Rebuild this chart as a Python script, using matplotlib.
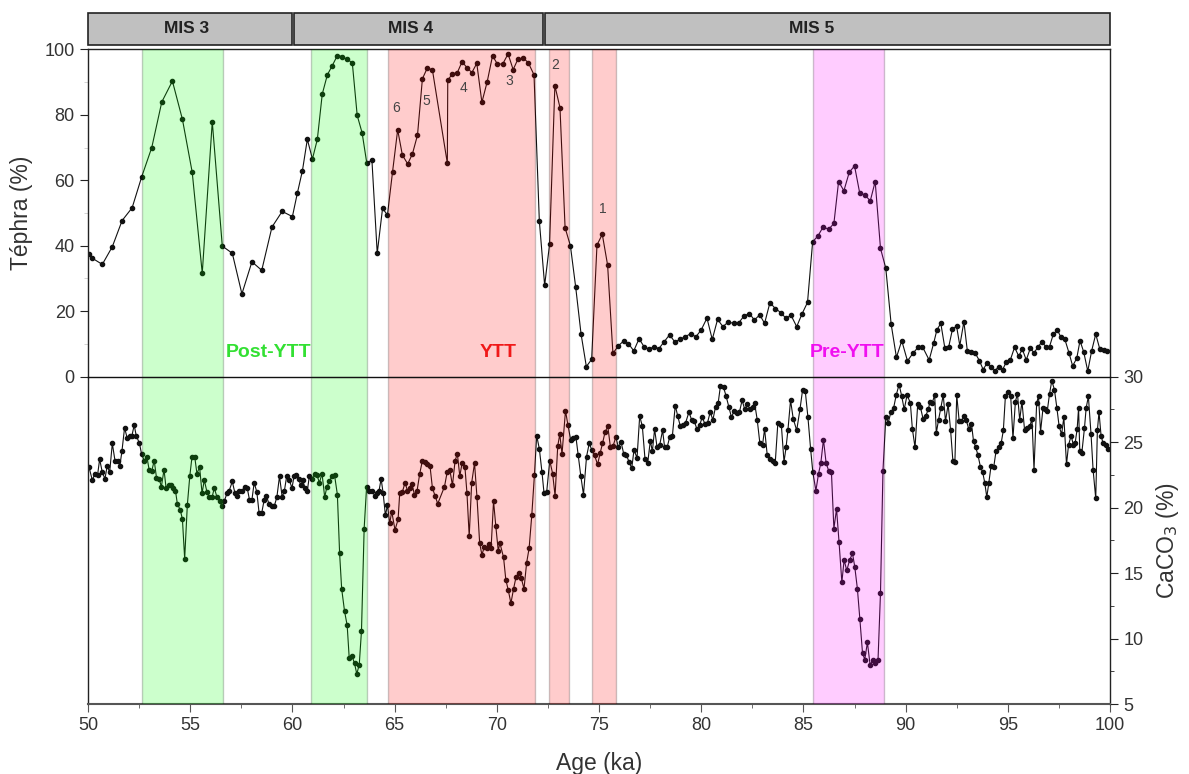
import matplotlib
matplotlib.use("Agg")
import matplotlib.pyplot as plt
from matplotlib.patches import Rectangle
from matplotlib.ticker import MultipleLocator

# ---- data ----
teph_age = [50.05, 50.21, 50.70, 51.19, 51.67, 52.16, 52.63, 53.12, 53.61, 54.13,
            54.62, 55.10, 55.59, 56.08, 56.57, 57.06, 57.53, 58.02, 58.50, 59.00,
            59.50, 60.00, 60.24, 60.49, 60.73, 60.98, 61.22, 61.46, 61.71, 61.95,
            62.20, 62.44, 62.68, 62.93, 63.17, 63.41, 63.64, 63.89, 64.15, 64.41,
            64.65, 64.90, 65.15, 65.38, 65.64, 65.87, 66.12, 66.36, 66.60, 66.85,
            67.58, 67.60, 67.82, 68.07, 68.30, 68.54, 68.78, 69.02, 69.27, 69.53,
            69.79, 70.03, 70.29, 70.55, 70.80, 71.04, 71.30, 71.54, 71.82, 72.08,
            72.34, 72.58, 72.84, 73.09, 73.34, 73.60, 73.86, 74.12, 74.38, 74.64,
            74.90, 75.16, 75.42, 75.68, 75.94, 76.20, 76.44, 76.70, 76.96, 77.20,
            77.45, 77.69, 77.93, 78.19, 78.45, 78.71, 78.96, 79.22, 79.48, 79.74,
            80.00, 80.28, 80.54, 80.80, 81.06, 81.32, 81.58, 81.84, 82.10, 82.36,
            82.60, 82.86, 83.10, 83.36, 83.63, 83.89, 84.15, 84.39, 84.67, 84.94,
            85.20, 85.45, 85.71, 85.97, 86.23, 86.49, 86.72, 86.98, 87.24, 87.50,
            87.75, 88.01, 88.27, 88.51, 88.77, 89.03, 89.29, 89.55, 89.81, 90.09,
            90.35, 90.61, 90.82, 91.15, 91.37, 91.53, 91.72, 91.92, 92.11, 92.29,
            92.49, 92.65, 92.85, 93.02, 93.22, 93.41, 93.61, 93.79, 93.98, 94.16,
            94.36, 94.55, 94.75, 94.93, 95.12, 95.33, 95.53, 95.71, 95.90, 96.10,
            96.28, 96.47, 96.67, 96.85, 97.04, 97.22, 97.42, 97.60, 97.79, 97.99,
            98.17, 98.37, 98.53, 98.71, 98.91, 99.10, 99.30, 99.50, 99.69, 99.87]
teph = [37.5, 36.2, 34.3, 39.7, 47.7, 51.6, 61.1, 70.0, 83.9, 90.3,
        78.6, 62.4, 31.6, 77.9, 39.9, 37.7, 25.3, 35.1, 32.5, 45.7,
        50.5, 48.9, 56.0, 62.9, 72.5, 66.5, 72.5, 86.3, 92.2, 95.0,
        98.1, 97.8, 96.9, 95.9, 79.8, 74.5, 65.2, 66.2, 37.7, 51.4,
        49.4, 62.6, 75.4, 67.7, 65.0, 68.0, 73.8, 91.0, 94.3, 93.7,
        65.2, 90.5, 92.5, 92.9, 96.2, 94.4, 92.9, 95.7, 83.8, 90.1,
        98.0, 95.5, 95.5, 98.6, 93.8, 97.1, 97.3, 95.9, 92.2, 47.6,
        27.9, 40.4, 88.9, 82.2, 45.5, 40.0, 27.3, 13.1, 3.1, 5.3,
        40.2, 43.5, 34.1, 7.1, 9.4, 10.9, 10.1, 7.9, 11.6, 9.2,
        8.4, 9.2, 8.6, 10.7, 12.8, 10.6, 11.4, 12.2, 13.1, 12.2,
        14.3, 17.9, 11.4, 17.5, 15.3, 16.7, 16.3, 16.5, 18.6, 19.3,
        17.3, 18.9, 16.3, 22.6, 20.8, 19.6, 17.8, 18.8, 15.3, 19.3,
        22.7, 41.2, 43.0, 45.8, 45.0, 46.8, 59.6, 56.8, 62.4, 64.4,
        56.2, 55.5, 53.7, 59.6, 39.2, 33.1, 16.1, 5.9, 11.0, 4.8,
        7.1, 9.0, 9.2, 5.1, 10.2, 14.3, 16.3, 8.7, 9.2, 14.5,
        15.5, 9.5, 16.8, 7.8, 7.6, 7.1, 4.9, 2.2, 4.1, 2.9,
        1.7, 3.1, 2.2, 4.6, 5.1, 9.0, 6.3, 8.4, 5.1, 8.7,
        7.3, 9.0, 10.7, 9.2, 9.2, 12.9, 14.3, 12.0, 11.4, 7.3,
        3.3, 5.6, 11.0, 7.6, 1.7, 7.9, 13.0, 8.4, 8.1, 7.9]

caco3_age = [50.05, 50.21, 50.34, 50.47, 50.57, 50.70, 50.83, 50.94, 51.06, 51.19,
             51.32, 51.45, 51.56, 51.66, 51.79, 51.92, 52.05, 52.15, 52.26, 52.36,
             52.52, 52.62, 52.75, 52.88, 52.99, 53.12, 53.24, 53.35, 53.48, 53.59,
             53.72, 53.82, 53.95, 54.06, 54.16, 54.28, 54.37, 54.52, 54.62, 54.73,
             54.86, 54.98, 55.09, 55.22, 55.33, 55.46, 55.58, 55.69, 55.82, 55.93,
             56.07, 56.18, 56.31, 56.44, 56.55, 56.67, 56.80, 56.91, 57.06, 57.19,
             57.30, 57.41, 57.54, 57.67, 57.79, 57.90, 58.02, 58.13, 58.26, 58.37,
             58.50, 58.62, 58.73, 58.85, 58.98, 59.11, 59.24, 59.37, 59.50, 59.61,
             59.72, 59.85, 59.98, 60.08, 60.20, 60.31, 60.41, 60.50, 60.62, 60.73,
             60.83, 60.96, 61.09, 61.20, 61.32, 61.45, 61.58, 61.69, 61.81, 61.93,
             62.06, 62.20, 62.31, 62.41, 62.55, 62.68, 62.78, 62.91, 63.04, 63.15,
             63.27, 63.38, 63.51, 63.63, 63.76, 63.89, 64.03, 64.15, 64.24, 64.34,
             64.44, 64.55, 64.65, 64.76, 64.86, 65.02, 65.17, 65.25, 65.38, 65.51,
             65.63, 65.74, 65.85, 65.97, 66.10, 66.23, 66.36, 66.49, 66.60, 66.73,
             66.85, 66.98, 67.11, 67.44, 67.57, 67.70, 67.83, 67.96, 68.07, 68.19,
             68.30, 68.44, 68.54, 68.65, 68.77, 68.91, 69.03, 69.16, 69.27, 69.39,
             69.50, 69.61, 69.72, 69.84, 69.95, 70.07, 70.15, 70.33, 70.44, 70.56,
             70.69, 70.82, 70.94, 71.07, 71.20, 71.33, 71.46, 71.58, 71.71, 71.84,
             71.95, 72.08, 72.21, 72.31, 72.44, 72.59, 72.73, 72.85, 72.98, 73.08,
             73.19, 73.36, 73.48, 73.61, 73.74, 73.87, 73.98, 74.11, 74.24, 74.39,
             74.52, 74.65, 74.78, 74.93, 75.06, 75.17, 75.30, 75.43, 75.56, 75.69,
             75.82, 75.95, 76.08, 76.21, 76.34, 76.47, 76.60, 76.71, 76.86, 76.99,
             77.12, 77.25, 77.38, 77.51, 77.61, 77.72, 77.84, 77.97, 78.11, 78.21,
             78.33, 78.46, 78.59, 78.73, 78.85, 78.98, 79.11, 79.24, 79.40, 79.53,
             79.66, 79.79, 79.92, 80.05, 80.18, 80.31, 80.44, 80.57, 80.70, 80.83,
             80.94, 81.09, 81.22, 81.35, 81.48, 81.61, 81.74, 81.87, 82.00, 82.13,
             82.26, 82.38, 82.51, 82.61, 82.74, 82.87, 83.00, 83.10, 83.23, 83.36,
             83.49, 83.62, 83.75, 83.92, 84.05, 84.15, 84.24, 84.37, 84.50, 84.67,
             84.83, 84.96, 85.09, 85.22, 85.35, 85.46, 85.61, 85.74, 85.85, 85.98,
             86.11, 86.24, 86.37, 86.49, 86.62, 86.74, 86.88, 86.99, 87.12, 87.26,
             87.40, 87.51, 87.64, 87.76, 87.89, 88.00, 88.13, 88.26, 88.41, 88.52,
             88.65, 88.77, 88.89, 89.03, 89.15, 89.28, 89.41, 89.54, 89.68, 89.81,
             89.93, 90.07, 90.23, 90.33, 90.46, 90.59, 90.72, 90.85, 90.98, 91.11,
             91.19, 91.30, 91.42, 91.50, 91.61, 91.72, 91.84, 91.95, 92.08, 92.20,
             92.31, 92.41, 92.50, 92.62, 92.73, 92.85, 92.96, 93.09, 93.22, 93.32,
             93.43, 93.54, 93.66, 93.77, 93.87, 93.97, 94.07, 94.18, 94.31, 94.42,
             94.55, 94.67, 94.78, 94.88, 95.01, 95.14, 95.25, 95.37, 95.47, 95.58,
             95.69, 95.82, 95.95, 96.08, 96.18, 96.28, 96.41, 96.50, 96.60, 96.72,
             96.83, 96.93, 97.04, 97.15, 97.28, 97.40, 97.51, 97.63, 97.74, 97.87,
             97.97, 98.10, 98.20, 98.29, 98.39, 98.46, 98.52, 98.62, 98.75, 98.83,
             98.94, 99.07, 99.17, 99.30, 99.38, 99.46, 99.56, 99.66, 99.79, 99.89]
caco3 = [23.1, 22.1, 22.6, 22.5, 23.7, 22.7, 22.2, 23.2, 22.7, 24.9,
         23.6, 23.6, 23.2, 24.3, 26.1, 25.3, 25.5, 25.5, 26.3, 25.5,
         24.9, 24.1, 23.6, 23.9, 22.9, 22.8, 23.6, 22.3, 22.2, 21.6,
         22.9, 21.5, 21.7, 21.7, 21.5, 21.3, 20.3, 19.8, 19.1, 16.1,
         20.2, 22.4, 23.9, 23.9, 22.6, 23.1, 21.1, 22.1, 21.2, 20.8,
         20.8, 21.5, 20.8, 20.5, 20.1, 20.5, 21.1, 21.3, 22.0, 21.1,
         20.9, 21.3, 21.3, 21.6, 21.5, 20.6, 20.6, 21.9, 21.2, 19.6,
         19.6, 20.6, 20.9, 20.3, 20.1, 20.1, 20.8, 22.4, 20.8, 21.3,
         22.4, 22.1, 21.5, 22.4, 22.5, 22.2, 21.7, 22.1, 21.5, 21.3,
         22.4, 22.2, 22.6, 22.5, 21.9, 22.6, 20.8, 21.6, 22.0, 22.4,
         22.5, 21.0, 16.5, 13.8, 12.1, 11.0, 8.5, 8.7, 8.1, 7.3,
         8.0, 10.6, 18.4, 21.6, 21.3, 21.3, 20.9, 21.1, 21.3, 22.2,
         21.1, 19.4, 20.2, 18.8, 19.7, 18.3, 19.1, 21.1, 21.2, 21.9,
         21.3, 21.5, 21.8, 21.0, 21.3, 22.6, 23.6, 23.5, 23.3, 23.2,
         21.5, 20.9, 20.3, 21.6, 22.7, 22.9, 21.7, 23.6, 24.1, 22.4,
         23.4, 23.1, 21.1, 17.8, 21.9, 23.4, 20.8, 17.3, 16.4, 17.0,
         16.9, 17.2, 16.9, 20.5, 18.6, 16.7, 17.3, 16.2, 14.5, 13.7,
         12.7, 13.8, 14.7, 15.0, 14.6, 13.8, 15.8, 16.9, 19.4, 22.5,
         25.5, 24.5, 22.7, 21.1, 21.2, 23.6, 22.6, 20.9, 24.7, 25.6,
         24.1, 27.4, 26.3, 25.2, 25.3, 25.4, 24.0, 22.4, 21.0, 23.9,
         24.9, 24.4, 24.0, 23.3, 24.2, 24.9, 25.8, 26.2, 24.6, 24.7,
         25.4, 24.6, 25.0, 24.1, 24.0, 23.5, 23.0, 24.4, 23.8, 27.0,
         26.2, 23.7, 23.4, 25.1, 24.3, 26.0, 24.6, 24.8, 25.9, 24.6,
         24.6, 25.4, 25.5, 27.8, 27.0, 26.2, 26.3, 26.5, 27.3, 26.7,
         26.6, 26.0, 26.3, 26.9, 26.4, 26.5, 27.3, 26.7, 27.7, 28.0,
         29.3, 29.2, 28.5, 27.7, 26.9, 27.4, 27.2, 27.3, 28.2, 27.5,
         27.9, 27.5, 27.7, 28.0, 26.7, 24.9, 24.8, 26.0, 24.0, 23.7,
         23.6, 23.4, 26.5, 26.3, 23.5, 24.6, 25.9, 28.2, 26.8, 25.9,
         27.5, 29.0, 28.9, 26.9, 24.5, 22.7, 21.3, 22.6, 23.4, 25.2,
         23.4, 22.8, 22.7, 18.4, 19.9, 17.4, 14.3, 16.0, 15.2, 16.0,
         16.5, 15.5, 13.8, 11.5, 8.9, 8.4, 9.7, 8.0, 8.4, 8.1,
         8.4, 13.5, 22.8, 26.9, 26.5, 27.3, 27.6, 28.6, 29.4, 28.5,
         27.5, 28.6, 28.0, 26.0, 24.6, 27.9, 27.7, 26.8, 27.0, 27.5,
         28.1, 28.0, 28.6, 25.7, 26.7, 27.6, 28.6, 26.6, 27.9, 25.9,
         23.6, 23.5, 28.6, 26.6, 26.6, 27.0, 26.7, 26.0, 26.4, 25.1,
         24.6, 24.0, 23.1, 22.7, 21.9, 20.8, 21.9, 23.2, 23.1, 24.3,
         24.6, 24.9, 25.9, 28.5, 28.8, 28.5, 25.3, 28.1, 28.7, 26.7,
         28.1, 25.9, 26.1, 26.2, 26.8, 22.9, 28.0, 28.5, 25.8, 27.6,
         27.5, 27.4, 28.7, 29.7, 29.0, 27.6, 26.2, 25.6, 26.9, 23.3,
         24.8, 25.5, 24.8, 24.9, 26.0, 27.6, 24.3, 24.2, 26.1, 27.6,
         28.5, 25.6, 22.9, 20.7, 25.9, 27.3, 25.5, 24.9, 24.8, 24.5]

mis_names = ["MIS 3", "MIS 4", "MIS 5"]
mis_start = [50.0, 60.1, 72.38]
mis_end = [59.97, 72.24, 99.98]

band_start = [52.63, 60.91, 64.69, 72.57, 74.67, 85.49]
band_end = [56.62, 63.63, 71.87, 73.52, 75.82, 88.93]
band_colors = ["#00ff00", "#00ff00", "#ff0000", "#ff0000", "#ff0000", "#ff00ff"]

zone_names = ["Post-YTT", "YTT", "Pre-YTT"]
zone_colors = ["#33e033", "#f01818", "#f010f0"]
peak_names = ["1", "2", "3", "4", "5", "6"]

# label positions (ka, tephra %)
zone_x = [58.83, 70.08, 87.15]
peak_x = [75.17, 72.84, 70.60, 68.39, 66.55, 65.08]
peak_y = [51.1, 95.2, 90.2, 88.3, 84.2, 82.0]

plt.rcParams.update({"font.family": ["Liberation Sans", "DejaVu Sans"],
                     "font.size": 13, "text.color": "#333333",
                     "axes.labelcolor": "#333333", "xtick.color": "#222222",
                     "ytick.color": "#222222", "xtick.labelcolor": "#333333",
                     "ytick.labelcolor": "#333333", "axes.edgecolor": "#222222",
                     "axes.linewidth": 1.0})

fig = plt.figure(figsize=(11.89, 7.74), dpi=100)
L, W = 0.074, 0.8596
ax1 = fig.add_axes([L, 0.5133, W, 0.4230])
ax2 = fig.add_axes([L, 0.0904, W, 0.4229])
ax2.patch.set_visible(False)
axm = fig.add_axes([L, 0.9419, W, 0.0417])

for ax in (ax1, ax2):
    ax.set_xlim(50, 100)
    for s, e, c in zip(band_start, band_end, band_colors):
        ax.axvspan(s, e, facecolor=c, edgecolor="k", lw=1.0, alpha=0.2, zorder=3)

line_kw = dict(color="#111111", lw=0.8, marker="o", ms=3, mec="#111111", zorder=2)
ax1.plot(teph_age, teph, **line_kw)
ax2.plot(caco3_age, caco3, **line_kw)

# top panel: Tephra
ax1.set_ylim(0, 100)
ax1.spines["bottom"].set_visible(False)
ax1.yaxis.set_major_locator(MultipleLocator(20))
ax1.yaxis.set_minor_locator(MultipleLocator(10))
ax1.tick_params(axis="x", which="both", bottom=False, labelbottom=False)
ax1.tick_params(axis="y", which="major", direction="out", length=6, labelsize=13)
ax1.tick_params(axis="y", which="minor", direction="out", length=3, color="#cccccc")
ax1.set_ylabel("Téphra (%)", fontsize=16.5, labelpad=8)

# bottom panel: CaCO3 (its top spine is the black divider line)
ax2.set_ylim(5, 30)
ax2.spines["top"].set_color("#111111")
ax2.spines["top"].set_zorder(5)
ax2.spines["bottom"].set_color("#555555")
ax2.spines["bottom"].set_linewidth(1.5)
ax2.yaxis.tick_right()
ax2.yaxis.set_label_position("right")
ax2.yaxis.set_major_locator(MultipleLocator(5))
ax2.yaxis.set_minor_locator(MultipleLocator(2.5))
ax2.xaxis.set_major_locator(MultipleLocator(5))
ax2.xaxis.set_minor_locator(MultipleLocator(2.5))
ax2.tick_params(which="major", direction="out", length=6, labelsize=13)
ax2.tick_params(which="minor", direction="out", length=3)
ax2.tick_params(axis="x", which="both", color="#555555")
ax2.set_ylabel("CaCO$_3$ (%)", fontsize=16.5, labelpad=8)
ax2.set_xlabel("Age (ka)", fontsize=16.5, labelpad=13)

for name, x, c in zip(zone_names, zone_x, zone_colors):
    ax1.text(x, 7.5, name, color=c, fontsize=14, fontweight="bold",
             ha="center", va="center", zorder=5)
for name, x, y in zip(peak_names, peak_x, peak_y):
    ax1.text(x, y, name, color="#444444", fontsize=10, ha="center",
             va="center", zorder=5)

# MIS stage boxes
axm.set_xlim(50, 100); axm.set_ylim(0, 1); axm.axis("off")
for name, s, e in zip(mis_names, mis_start, mis_end):
    axm.add_patch(Rectangle((s, 0), e - s, 1, facecolor="#c0c0c0",
                            edgecolor="#222222", lw=1.2, clip_on=False))
mis_label_x = [54.82, 65.78, 85.4]
for name, x in zip(mis_names, mis_label_x):
    axm.text(x, 0.5, name, fontsize=12.5, fontweight="bold", color="#222222",
             ha="center", va="center")

fig.savefig("out.png", dpi=100)
